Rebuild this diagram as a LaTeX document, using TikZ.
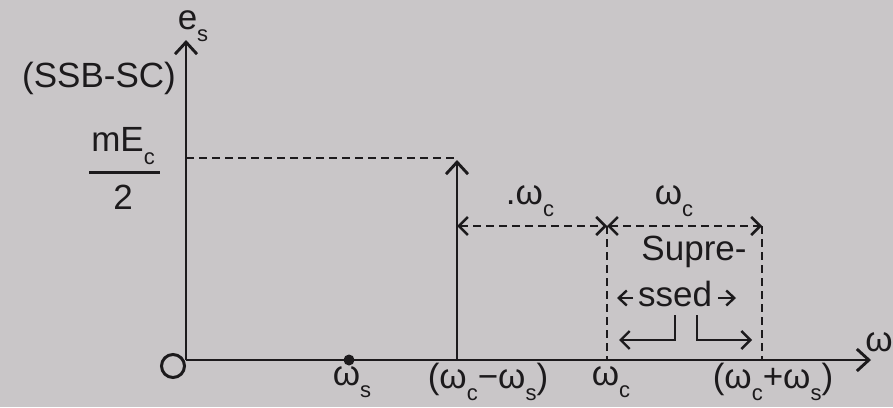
\documentclass[tikz,border=0pt]{standalone}
\usepackage{fontspec}
\setmainfont{Liberation Sans}
\usetikzlibrary{arrows.meta}
\definecolor{bg}{RGB}{201,198,200}
\definecolor{ink}{RGB}{28,26,28}
\newcommand{\sbs}[1]{\raisebox{-0.36em}{\fontsize{22}{22}\selectfont #1}}
\begin{document}
\begin{tikzpicture}[x=1pt,y=-1pt,
  font=\fontsize{35}{37}\selectfont,
  every node/.style={text=ink, inner sep=0pt},
  axisline/.style={draw=ink, line width=2.9pt, -{Straight Barb[length=12pt,width=22pt,line width=2.9pt]}},
  solidline/.style={draw=ink, line width=2.9pt},
  dashline/.style={draw=ink, line width=2.5pt, dash pattern=on 8pt off 5pt},
  dimarrow/.style={dashline, {Straight Barb[length=9pt,width=18pt,line width=2.5pt]}-{Straight Barb[length=9pt,width=18pt,line width=2.5pt]}},
  bentarrow/.style={draw=ink, line width=2.4pt, -{Straight Barb[length=9pt,width=18pt,line width=2.4pt]}},
  tinyarrow/.style={draw=ink, line width=2.4pt, -{Straight Barb[length=8pt,width=15pt,line width=2.4pt]}}
]
\fill[bg] (0,0) rectangle (893,407);
\useasboundingbox (0,0) rectangle (893,407);

% key points
\coordinate (O) at (186,360);
\coordinate (ytop) at (186,40);
\coordinate (xend) at (871,360);
\coordinate (lvl) at (186,158);
\coordinate (lsb) at (457,360);
\coordinate (lsbtop) at (457,160);
\coordinate (lsblvl) at (457,158);
\coordinate (ws) at (349,360);
\coordinate (wcb) at (607,360);
\coordinate (usb) at (762,360);
\coordinate (dA) at (457,226);
\coordinate (dB) at (607,226);
\coordinate (dC) at (762,226);
\coordinate (l1) at (675,315);
\coordinate (l2) at (675,340);
\coordinate (l3) at (619,340);
\coordinate (r1) at (697,315);
\coordinate (r2) at (697,340);
\coordinate (r3) at (752,340);
\coordinate (ta1) at (633,298);
\coordinate (ta2) at (617,298);
\coordinate (tb1) at (718,298);
\coordinate (tb2) at (736,298);

% axes
\draw[axisline] (O) -- (ytop);
\draw[axisline] (O) -- (xend);
\draw[draw=ink, line width=3pt] (173,366) circle (11.5);
\fill[ink] (ws) circle (5.5);

% dashed level and spectral line
\draw[dashline] (lvl) -- (lsblvl);
\draw[axisline] (lsb) -- (lsbtop);

% dimension arrows
\draw[dimarrow] (dA) -- (dB);
\draw[dimarrow] (dB) -- (dC);

% suppressed band
\draw[dashline] (dB) -- (wcb);
\draw[dashline] (dC) -- (usb);
\draw[bentarrow] (l1) -- (l2) -- (l3);
\draw[bentarrow] (r1) -- (r2) -- (r3);
\draw[tinyarrow] (ta1) -- (ta2);
\draw[tinyarrow] (tb1) -- (tb2);

% labels
\node (es) at (193,26) {e\sbs{s}};
\node (ssb) at (99,78) {(SSB-SC)};
\node (num) at (123,146) {mE\sbs{c}};
\draw[solidline, line width=3pt] (89,172) -- (160,172);
\node (den) at (123,197) {2};
\node (lwc1) at (530,201) {.ω\sbs{c}};
\node (lwc2) at (674,201) {ω\sbs{c}};
\node (sup) at (694,252) {Supre-};
\node (ssed) at (675,294) {ssed};
\node (w) at (879,342) {ω};
\node (lws) at (352,382) {ω\sbs{s}};
\node (lwcm) at (488,382) {(ω\sbs{c}−ω\sbs{s})};
\node (lwc) at (611,382) {ω\sbs{c}};
\node (lwcp) at (773,382) {(ω\sbs{c}+ω\sbs{s})};
\end{tikzpicture}
\end{document}
